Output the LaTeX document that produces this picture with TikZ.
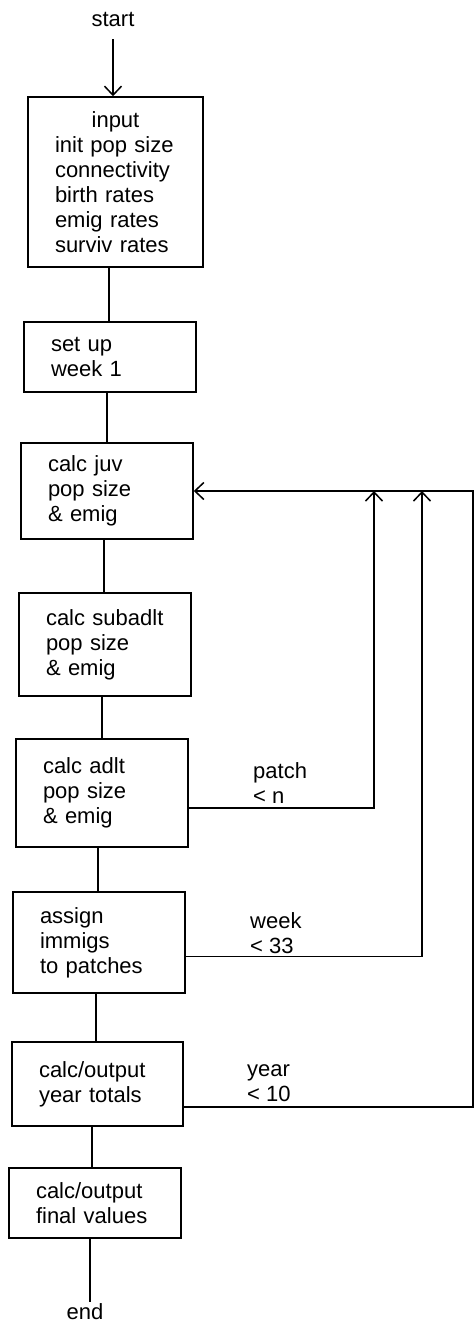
\documentclass[tikz,border=0pt]{standalone}
\usepackage{fontspec}
\setmainfont{Liberation Sans}
\usetikzlibrary{arrows.meta}
\begin{document}
\begin{tikzpicture}[x=1pt,y=-1pt,
  every node/.style={font=\fontsize{22}{25}\selectfont},
  stepbox/.style={draw, line width=1.5pt, rectangle, inner xsep=27pt, inner ysep=2pt,
    text width=118pt, align=left, minimum width=172pt},
  lbl/.style={inner sep=0pt},
  cond/.style={inner sep=0pt, anchor=west, align=left},
  conn/.style={line width=1.5pt},
  arr/.style={line width=1.5pt, -{Straight Barb[length=9pt,width=17pt,line width=1.5pt]}}]
\useasboundingbox (0,0) rectangle (476,1324);

\node[lbl] (start) at (113,20) {start};
\node[stepbox, text width=121pt, minimum height=170pt] (input) at (115.5,182)
  {\makebox[\linewidth]{input}\\init pop size\\connectivity\\birth rates\\emig rates\\surviv rates};
\node[stepbox, minimum height=70pt] (setup) at (110,357) {set up\\week 1};
\node[stepbox, minimum height=96pt] (juv) at (107,491) {calc juv\\pop size\\\& emig};
\node[stepbox, minimum height=103pt] (sub) at (105,644.5) {calc subadlt\\pop size\\\& emig};
\node[stepbox, minimum height=108pt] (adlt) at (102,793) {calc adlt\\pop size\\\& emig};
\node[stepbox, minimum height=101pt] (assign) at (99,942.5) {assign\\immigs\\to patches};
\node[stepbox, text width=117pt, minimum width=171pt, minimum height=84pt] (year) at (97.5,1084) {calc/output\\year totals};
\node[stepbox, minimum height=70pt] (final) at (95,1203) {calc/output\\final values};
\node[lbl] (end) at (85,1312) {end};

\node[cond] (cpatch) at (253,783) {patch\\< n};
\node[cond] (cweek) at (250,933) {week\\< 33};
\node[cond] (cyear) at (247,1083) {year\\< 10};

\coordinate (v1) at (109,0);
\coordinate (v2) at (107,0);
\coordinate (v3) at (104,0);
\coordinate (v4) at (102,0);
\coordinate (v5) at (98,0);
\coordinate (v6) at (96,0);
\coordinate (v7) at (92,0);
\coordinate (v8) at (90,0);
\coordinate (px) at (374,0);
\coordinate (wx) at (422,0);
\coordinate (yx) at (473,0);

\draw[arr, shorten <=12pt] (start.south) -- (start |- input.north);
\draw[conn] (input.south -| v1) -- (setup.north -| v1);
\draw[conn] (setup.south -| v2) -- (juv.north -| v2);
\draw[conn] (juv.south -| v3) -- (sub.north -| v3);
\draw[conn] (sub.south -| v4) -- (adlt.north -| v4);
\draw[conn] (adlt.south -| v5) -- (assign.north -| v5);
\draw[conn] (assign.south -| v6) -- (year.north -| v6);
\draw[conn] (year.south -| v7) -- (final.north -| v7);
\draw[conn, shorten >=2pt] (final.south -| v8) -- (v8 |- end.north);

\draw[arr] ([yshift=-23pt]year.east) -| (yx |- juv.east) -- (juv.east);
\draw[arr] ([yshift=-15pt]adlt.east) -| (px |- juv.east);
\draw[arr] ([yshift=-14pt]assign.east) -| (wx |- juv.east);
\end{tikzpicture}
\end{document}
